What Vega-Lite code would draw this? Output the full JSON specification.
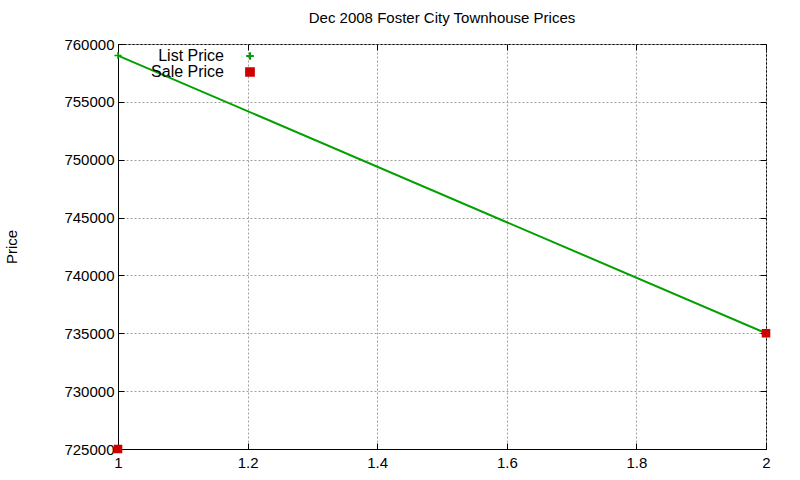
{
  "$schema": "https://vega.github.io/schema/vega-lite/v6.json",
  "autosize": "none",
  "width": 648,
  "height": 405,
  "padding": {"left": 118, "top": 44, "right": 34, "bottom": 31},
  "background": "#ffffff",
  "title": {
    "text": "Dec 2008 Foster City Townhouse Prices",
    "font": "Liberation Sans",
    "fontSize": 15,
    "fontWeight": "normal",
    "color": "#000000",
    "anchor": "middle",
    "offset": 11
  },
  "data": {
    "values": [
      {"x": 1, "price": 759000, "series": "List Price"},
      {"x": 2, "price": 735000, "series": "List Price"},
      {"x": 1, "price": 725000, "series": "Sale Price"},
      {"x": 2, "price": 735000, "series": "Sale Price"}
    ]
  },
  "layer": [
    {
      "transform": [{"filter": "datum.series == 'List Price'"}],
      "mark": {"type": "line", "color": "#00a000", "strokeWidth": 2},
      "encoding": {
        "x": {
          "field": "x",
          "type": "quantitative",
          "scale": {"domain": [1, 2], "nice": false, "zero": false},
          "axis": {
            "orient": "top",
            "title": null,
            "values": [1, 1.2, 1.4, 1.6, 1.8, 2],
            "labels": false,
            "grid": false,
            "domain": false,
            "tickSize": -6,
            "tickColor": "#000000"
          }
        },
        "y": {
          "field": "price",
          "type": "quantitative",
          "scale": {"domain": [725000, 760000], "nice": false, "zero": false},
          "axis": {
            "orient": "right",
            "title": null,
            "values": [725000, 730000, 735000, 740000, 745000, 750000, 755000, 760000],
            "labels": false,
            "grid": false,
            "domain": false,
            "tickSize": -6,
            "tickColor": "#000000"
          }
        }
      }
    },
    {
      "mark": {"type": "point", "filled": true, "opacity": 1, "strokeWidth": 1.5},
      "encoding": {
        "x": {
          "field": "x",
          "type": "quantitative",
          "scale": {"domain": [1, 2], "nice": false, "zero": false},
          "axis": {
            "title": null,
            "values": [1, 1.2, 1.4, 1.6, 1.8, 2],
            "format": "~g",
            "grid": true,
            "gridDash": [2, 2],
            "gridColor": "#a0a0a0",
            "tickSize": -6,
            "tickColor": "#000000",
            "domainColor": "#000000",
            "labelFlush": false,
            "labelPadding": 12,
            "labelFontSize": 15,
            "labelFont": "Liberation Sans",
            "labelColor": "#000000"
          }
        },
        "y": {
          "field": "price",
          "type": "quantitative",
          "scale": {"domain": [725000, 760000], "nice": false, "zero": false},
          "axis": {
            "title": "Price",
            "values": [725000, 730000, 735000, 740000, 745000, 750000, 755000, 760000],
            "format": "d",
            "grid": true,
            "gridDash": [2, 2],
            "gridColor": "#a0a0a0",
            "tickSize": -6,
            "tickColor": "#000000",
            "domainColor": "#000000",
            "labelFlush": false,
            "labelPadding": 10,
            "labelFontSize": 15,
            "labelFont": "Liberation Sans",
            "labelColor": "#000000",
            "titleFont": "Liberation Sans",
            "titleFontSize": 15,
            "titleFontWeight": "normal",
            "titleColor": "#000000",
            "titlePadding": 44
          }
        },
        "color": {
          "field": "series",
          "type": "nominal",
          "scale": {"domain": ["List Price", "Sale Price"], "range": ["#00a000", "#cc0000"]},
          "legend": {
            "title": null,
            "orient": "none",
            "legendX": 124,
            "legendY": 4,
            "labelAlign": "right",
            "labelOffset": -34,
            "labelFont": "Liberation Sans",
            "labelFontSize": 16,
            "labelColor": "#000000",
            "symbolStrokeWidth": 2,
            "symbolSize": 60,
            "rowPadding": 0
          }
        },
        "stroke": {
          "field": "series",
          "type": "nominal",
          "scale": {"domain": ["List Price", "Sale Price"], "range": ["#00a000", "#cc0000"]}
        },
        "shape": {
          "field": "series",
          "type": "nominal",
          "scale": {"domain": ["List Price", "Sale Price"], "range": ["M-1,0H1M0,-1V1", "square"]}
        },
        "size": {"value": 50}
      }
    }
  ],
  "resolve": {"axis": {"x": "independent", "y": "independent"}},
  "config": {
    "view": {"stroke": "#000000", "strokeWidth": 1}
  }
}
